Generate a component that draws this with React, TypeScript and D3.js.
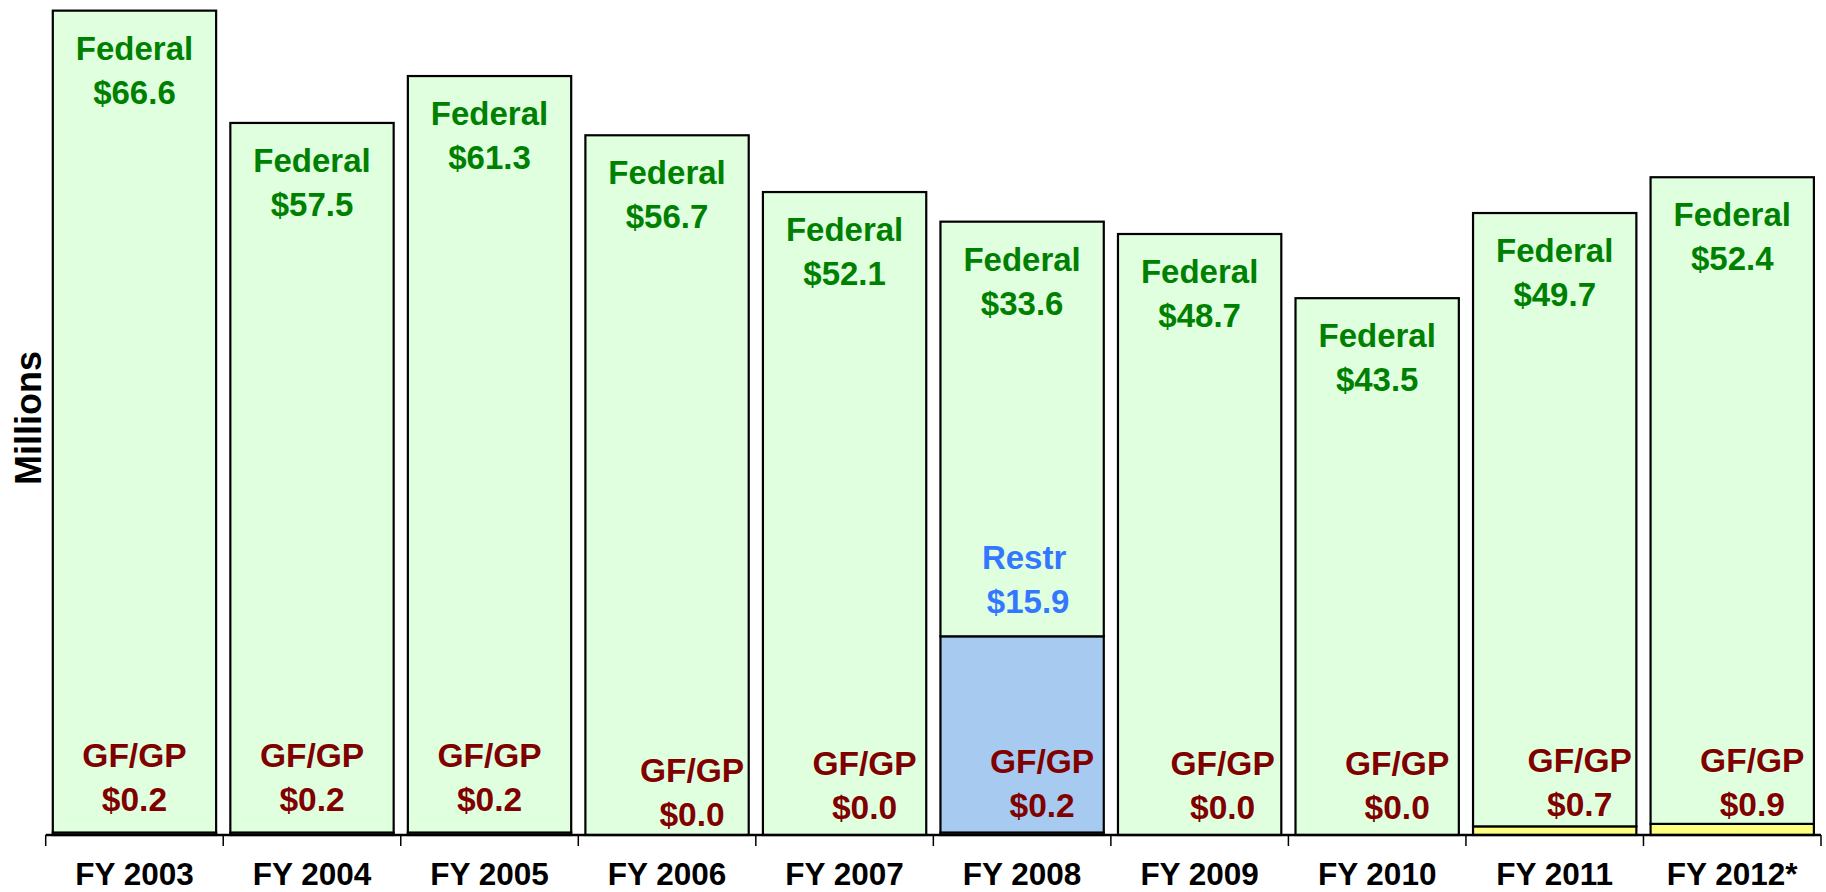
import React from "react";
import * as d3 from "d3";

const years = ["FY 2003", "FY 2004", "FY 2005", "FY 2006", "FY 2007", "FY 2008", "FY 2009", "FY 2010", "FY 2011", "FY 2012*"];
const gfgp = [0.2, 0.2, 0.2, 0.0, 0.0, 0.2, 0.0, 0.0, 0.7, 0.9];
const restricted = [0, 0, 0, 0, 0, 15.9, 0, 0, 0, 0];
const federal = [66.6, 57.5, 61.3, 56.7, 52.1, 33.6, 48.7, 43.5, 49.7, 52.4];

// label layout nudges (px) for the GF/GP annotations, as placed in the original
const gfLabelDx = [0, 0, 0, 25, 20, 20, 23, 20, 25, 20];
const gfLabelRise = [68, 68, 68, 53, 60, 62, 60, 60, 63, 63];

const W = 1826;
const H = 892;
const X0 = 45.7;
const X1 = 1821;
const Y0 = 835;

const FONT = "'Liberation Sans', Arial, sans-serif";

export default function App() {
  const rows = years.map((y, i) => ({ year: y, gf: gfgp[i], restr: restricted[i], fed: federal[i] }));
  const keys = ["gf", "restr", "fed"];
  const stack = d3.stack<any>().keys(keys);
  const series = stack(rows as any);

  const x = d3.scaleBand<string>().domain(years).range([X0, X1]).paddingInner(0.08).paddingOuter(0.04);
  const y = d3.scaleLinear().domain([0, 67.5]).range([Y0, 2]);

  const fills: Record<string, string> = { gf: "#FFFF80", restr: "#A6CAF0", fed: "#DFFFDF" };

  const step = x.step();
  const tickXs = d3.range(years.length + 1).map((i) => X0 + i * step);

  return (
    <svg width={W} height={H} style={{ position: "absolute", left: 0, top: 0, background: "#fff" }} fontFamily={FONT}>
      {series.map((s) => (
        <g key={s.key}>
          {s.map((d, i) => {
            const v = d[1] - d[0];
            if (v <= 0) return null;
            const top = y(d[1]);
            const bot = y(d[0]);
            return (
              <rect
                key={i}
                x={x(years[i])!}
                y={top}
                width={x.bandwidth()}
                height={Math.max(bot - top, 0.5)}
                fill={fills[s.key as string]}
                stroke="#000"
                strokeWidth={2.2}
              />
            );
          })}
        </g>
      ))}

      {/* Federal labels */}
      {rows.map((r, i) => {
        const cx = x(r.year)! + x.bandwidth() / 2;
        const top = y(r.gf + r.restr + r.fed);
        return (
          <g key={"fed" + i} fill="#008000" fontWeight="bold" fontSize={33} textAnchor="middle">
            <text x={cx} y={top + 49}>Federal</text>
            <text x={cx} y={top + 93}>${r.fed.toFixed(1)}</text>
          </g>
        );
      })}

      {/* Restricted labels */}
      {rows.map((r, i) => {
        if (r.restr <= 0) return null;
        const cx = x(r.year)! + x.bandwidth() / 2 + 4;
        const top = y(r.gf + r.restr);
        return (
          <g key={"restr" + i} fill="#3377FF" fontWeight="bold" fontSize={33} textAnchor="middle">
            <text x={cx - 2} y={top - 67}>Restr</text>
            <text x={cx + 2} y={top - 23}>${r.restr.toFixed(1)}</text>
          </g>
        );
      })}

      {/* GF/GP labels */}
      {rows.map((r, i) => {
        const cx = x(r.year)! + x.bandwidth() / 2 + gfLabelDx[i];
        const base = Y0 - gfLabelRise[i];
        return (
          <g key={"gf" + i} fill="#800000" fontWeight="bold" fontSize={33.5} textAnchor="middle">
            <text x={cx} y={base}>GF/GP</text>
            <text x={cx} y={base + 44}>${r.gf.toFixed(1)}</text>
          </g>
        );
      })}

      {/* x axis */}
      <line x1={X0} x2={X1} y1={Y0} y2={Y0} stroke="#000" strokeWidth={2.5} />
      {tickXs.map((tx, i) => (
        <line key={"t" + i} x1={tx} x2={tx} y1={Y0} y2={Y0 + 11} stroke="#000" strokeWidth={1.5} />
      ))}
      {years.map((yr) => (
        <text
          key={"xl" + yr}
          x={x(yr)! + x.bandwidth() / 2}
          y={885}
          textAnchor="middle"
          fontWeight="bold"
          fontSize={31.5}
          fill="#000"
        >
          {yr}
        </text>
      ))}

      {/* y axis title */}
      <text
        transform={`translate(41, 418) rotate(-90)`}
        textAnchor="middle"
        fontWeight="bold"
        fontSize={36}
        fill="#000"
      >
        Millions
      </text>
    </svg>
  );
}
